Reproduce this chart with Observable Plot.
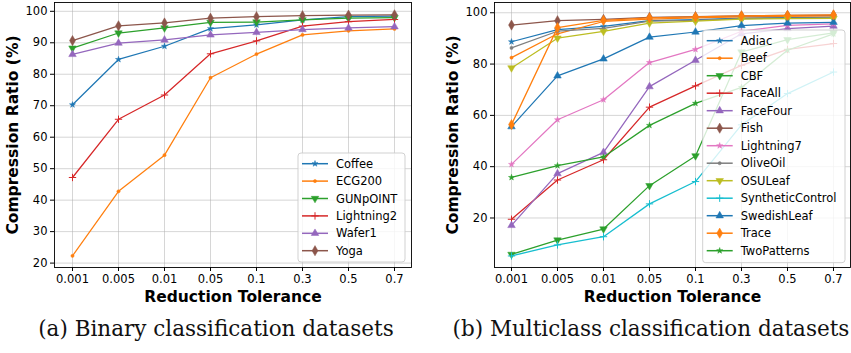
<!DOCTYPE html>
<html>
<head>
<meta charset="utf-8">
<script src="https://cdn.jsdelivr.net/npm/d3@7"></script>
<script src="https://cdn.jsdelivr.net/npm/@observablehq/plot@0.6"></script>
<style>
  html, body { margin: 0; padding: 0; background: #fff; }
  #wrap { position: relative; width: 851px; height: 353px; overflow: hidden; }
  #left { position: absolute; left: 0; top: 0; }
  #right { position: absolute; left: 430px; top: 0; }
  .cap { position: absolute; top: 318px; line-height: 1; font-family: "DejaVu Serif", serif; font-size: 21.5px; color: #111; white-space: nowrap; transform: translateX(-50%); }
</style>
</head>
<body>
<div id="wrap">
  <div id="left"></div>
  <div id="right"></div>
  <div class="cap" id="capA" style="left:216px"></div>
  <div class="cap" id="capB" style="left:651px"></div>
</div>
<script>
// ---------- data ----------
const tolerances = ["0.001", "0.005", "0.01", "0.05", "0.1", "0.3", "0.5", "0.7"];

// (a) binary
const binaryNames = ["Coffee", "ECG200", "GUNpOINT", "Lightning2", "Wafer1", "Yoga"];
const coffee     = [70.3, 84.7, 88.9, 94.5, 95.7, 97.3, 98.3, 98.5];
const ecg200     = [22.3, 42.8, 54.3, 78.9, 86.4, 92.5, 93.8, 94.4];
const gunpoint   = [88.3, 93.1, 94.7, 96.5, 96.6, 97.3, 97.8, 98.0];
const lightning2 = [47.2, 65.7, 73.4, 86.5, 90.6, 95.3, 96.7, 97.4];
const wafer1     = [86.3, 89.9, 90.9, 92.5, 93.3, 94.2, 94.7, 95.1];
const yoga       = [90.7, 95.4, 96.3, 97.8, 98.3, 98.6, 98.8, 98.9];

// (b) multiclass
const multiNames = ["Adiac", "Beef", "CBF", "FaceAll", "FaceFour", "Fish", "Lightning7",
  "OliveOil", "OSULeaf", "SyntheticControl", "SwedishLeaf", "Trace", "TwoPatterns"];
const adiac            = [88.7, 93.4, 94.7, 96.9, 97.3, 97.9, 98.1, 98.3];
const beef             = [82.5, 91.8, 96.6, 97.5, 98.0, 98.4, 98.6, 98.8];
const cbf              = [5.8, 11.4, 15.7, 32.6, 44.2, 84.7, 89.5, 92.2];
const faceAll          = [19.5, 34.8, 42.7, 63.2, 71.5, 79.5, 85.7, 88.0];
const faceFour         = [17.1, 37.3, 45.6, 71.2, 81.5, 91.8, 93.8, 94.8];
const fish             = [95.2, 96.9, 97.4, 98.2, 98.5, 98.8, 99.0, 99.1];
const lightning7       = [40.9, 58.3, 66.1, 80.6, 85.7, 92.8, 95.1, 95.7];
const oliveOil         = [86.3, 92.8, 93.9, 96.7, 97.0, 97.7, 97.9, 98.0];
const osuLeaf          = [78.5, 90.1, 92.7, 96.0, 96.7, 97.5, 97.7, 97.8];
const syntheticControl = [5.2, 9.5, 12.7, 25.5, 34.2, 56.3, 68.5, 76.9];
const swedishLeaf      = [55.6, 75.4, 82.0, 90.5, 92.5, 95.0, 96.0, 96.3];
const trace            = [56.4, 94.2, 97.0, 98.0, 98.4, 98.8, 99.0, 99.2];
const twoPatterns      = [35.8, 40.4, 43.8, 56.1, 64.7, 70.9, 85.4, 91.8];

const binaryTicks = [20, 30, 40, 50, 60, 70, 80, 90, 100];
const multiTicks = [20, 40, 60, 80, 100];

const captionA = "(a) Binary classification datasets";
const captionB = "(b) Multiclass classification datasets";
const xLabel = "Reduction Tolerance";
const yLabel = "Compression Ratio (%)";

// ---------- styling ----------
const tab10 = ["#1f77b4", "#ff7f0e", "#2ca02c", "#d62728", "#9467bd", "#8c564b", "#e377c2", "#7f7f7f", "#bcbd22", "#17becf"];
const triangleDown = {
  draw(context, size) {
    const s3 = Math.sqrt(3);
    const y = -Math.sqrt(size / (s3 * 3));
    context.moveTo(0, -y * 2);
    context.lineTo(-s3 * y, y);
    context.lineTo(s3 * y, y);
    context.closePath();
  }
};
const markerCycle = [
  {sym: d3.symbolStar, r: 1.9, stroke: false},
  {sym: d3.symbolCircle, r: 1.6, stroke: false},
  {sym: triangleDown, r: 2.8, stroke: false},
  {sym: d3.symbolPlus, r: 2.5, stroke: true},
  {sym: d3.symbolTriangle, r: 2.8, stroke: false},
  {sym: d3.symbolDiamond, r: 3.1, stroke: false}
];

function makeTable(names, arrays) {
  return names.map((name, i) => ({
    name,
    color: tab10[i % 10],
    marker: markerCycle[i % 6],
    rows: tolerances.map((t, j) => ({tol: t, value: arrays[i][j]}))
  }));
}

function chart(series, opts) {
  const marks = [
    Plot.gridX({stroke: "#b0b0b0", strokeOpacity: 0.65, strokeWidth: 0.8}),
    Plot.gridY(opts.yTicks, {stroke: "#b0b0b0", strokeOpacity: 0.65, strokeWidth: 0.8})
  ];
  for (const s of series) {
    marks.push(Plot.line(s.rows, {x: "tol", y: "value", stroke: s.color, strokeWidth: 1.25}));
    const m = s.marker;
    marks.push(Plot.dot(s.rows, {
      x: "tol", y: "value", symbol: m.sym, r: m.r,
      fill: m.stroke ? "none" : s.color,
      stroke: s.color, strokeWidth: m.stroke ? 1 : 0.5
    }));
  }
  marks.push(
    Plot.frame({stroke: "#000", strokeWidth: 0.9}),
    Plot.axisX({tickSize: 4, tickPadding: 3, label: null, fontSize: 11.5}),
    Plot.axisY(opts.yTicks, {tickSize: 4, tickPadding: 3, label: null, fontSize: 11.5}),
    Plot.text([xLabel], {frameAnchor: "bottom", dy: 34, fontWeight: "bold", fontSize: 15.5}),
    Plot.text([yLabel], {frameAnchor: "left", textAnchor: "middle", rotate: -90, dx: -41, fontWeight: "bold", fontSize: 15.5})
  );
  return Plot.plot({
    width: opts.width, height: 310,
    marginLeft: opts.marginLeft, marginRight: opts.marginRight, marginTop: 2, marginBottom: 43,
    style: {fontFamily: "DejaVu Sans", fontSize: "11.5px", color: "#000", background: "transparent", overflow: "visible"},
    x: {type: "point", domain: tolerances, padding: 0.35},
    y: {domain: opts.yDomain},
    marks
  });
}

function addLegend(svg, series, box) {
  const g = d3.select(svg).append("g")
    .attr("font-family", "DejaVu Sans").attr("font-size", 11.5).attr("text-anchor", "start");
  g.append("rect")
    .attr("x", box.x).attr("y", box.y).attr("width", box.w).attr("height", box.h)
    .attr("rx", 3).attr("fill", "#fff").attr("fill-opacity", 0.8)
    .attr("stroke", "#ccc").attr("stroke-width", 0.9);
  series.forEach((s, i) => {
    const y = box.y0 + i * box.step;
    const x1 = box.x + 4, x2 = box.x + 30;
    g.append("line").attr("x1", x1).attr("x2", x2).attr("y1", y).attr("y2", y)
      .attr("stroke", s.color).attr("stroke-width", 1.5);
    const m = s.marker;
    g.append("path")
      .attr("d", d3.symbol(m.sym, Math.PI * m.r * m.r)())
      .attr("transform", `translate(${(x1 + x2) / 2},${y})`)
      .attr("fill", m.stroke ? "none" : s.color)
      .attr("stroke", s.color).attr("stroke-width", m.stroke ? 1 : 0.5);
    g.append("text").attr("x", box.x + 38).attr("y", y).attr("dy", "0.35em")
      .attr("text-anchor", "start").attr("fill", "#000").text(s.name);
  });
}

const binSeries = makeTable(binaryNames, [coffee, ecg200, gunpoint, lightning2, wafer1, yoga]);
const mulSeries = makeTable(multiNames, [adiac, beef, cbf, faceAll, faceFour, fish, lightning7,
  oliveOil, osuLeaf, syntheticControl, swedishLeaf, trace, twoPatterns]);

const left = chart(binSeries, {width: 430, marginLeft: 54, marginRight: 19, yDomain: [18.6, 102.8], yTicks: binaryTicks});
addLegend(left, binSeries, {x: 298, y: 153, w: 107, h: 109, y0: 163.7, step: 17.4});
document.getElementById("left").append(left);

const right = chart(mulSeries, {width: 421, marginLeft: 64, marginRight: 1, yDomain: [0.7, 104], yTicks: multiTicks});
addLegend(right, mulSeries, {x: 272.7, y: 30, w: 142.3, h: 232.7, y0: 40.7, step: 17.5});
document.getElementById("right").append(right);

document.getElementById("capA").textContent = captionA;
document.getElementById("capB").textContent = captionB;
</script>
</body>
</html>
